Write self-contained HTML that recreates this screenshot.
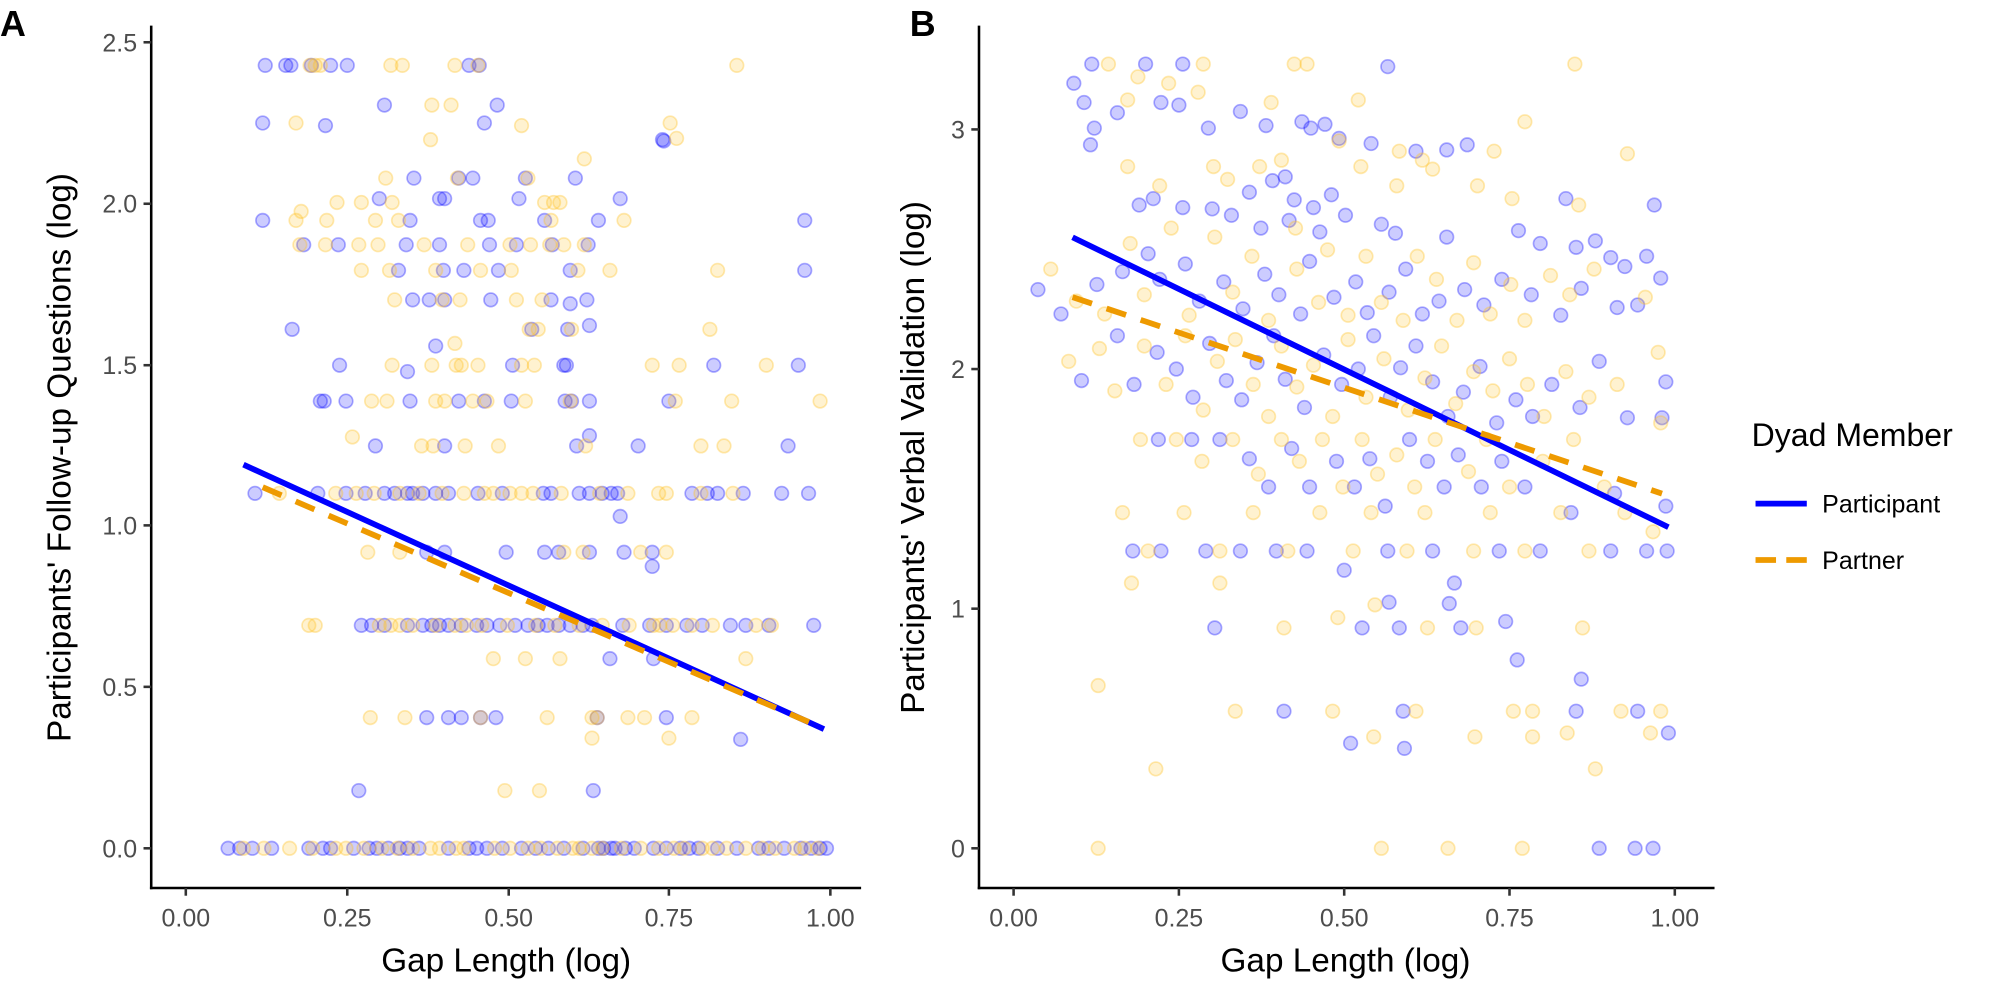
<!DOCTYPE html>
<html><head><style>html,body{margin:0;padding:0;background:#fff}svg{display:block}
.b{r:5.3px;fill:rgba(0,0,255,0.2);stroke:rgba(0,0,255,0.33);stroke-width:1.3}
.o{r:5.3px;fill:rgba(255,195,40,0.22);stroke:rgba(255,195,40,0.36);stroke-width:1.3}
.t{font-size:19.5px;fill:#4d4d4d}
</style></head>
<body>
<svg width="1999" height="994" viewBox="0 0 1560 775.7" preserveAspectRatio="none" xmlns="http://www.w3.org/2000/svg" font-family="Liberation Sans, sans-serif">
<g>
<g>
<circle class="b" cx="178" cy="662"/><circle class="b" cx="187" cy="662"/><circle class="b" cx="197" cy="662"/><circle class="b" cx="212" cy="662"/><circle class="b" cx="241" cy="662"/><circle class="b" cx="252" cy="662"/><circle class="b" cx="258" cy="662"/><circle class="b" cx="276" cy="662"/><circle class="b" cx="288" cy="662"/><circle class="b" cx="294" cy="662"/><circle class="b" cx="303" cy="662"/><circle class="b" cx="312" cy="662"/><circle class="b" cx="318" cy="662"/><circle class="b" cx="327" cy="662"/><circle class="b" cx="350" cy="662"/><circle class="b" cx="366" cy="662"/><circle class="b" cx="372" cy="662"/><circle class="b" cx="380" cy="662"/><circle class="b" cx="392" cy="662"/><circle class="b" cx="407" cy="662"/><circle class="b" cx="418" cy="662"/><circle class="b" cx="428" cy="662"/><circle class="b" cx="440" cy="662"/><circle class="b" cx="455" cy="662"/><circle class="b" cx="467" cy="662"/><circle class="b" cx="471" cy="662"/><circle class="b" cx="477" cy="662"/><circle class="b" cx="480" cy="662"/><circle class="b" cx="488" cy="662"/><circle class="b" cx="495" cy="662"/><circle class="b" cx="510" cy="662"/><circle class="b" cx="520" cy="662"/><circle class="b" cx="531" cy="662"/><circle class="b" cx="538" cy="662"/><circle class="b" cx="545" cy="662"/><circle class="b" cx="560" cy="662"/><circle class="b" cx="575" cy="662"/><circle class="b" cx="592" cy="662"/><circle class="b" cx="600" cy="662"/><circle class="b" cx="612" cy="662"/><circle class="b" cx="625" cy="662"/><circle class="b" cx="633" cy="662"/><circle class="b" cx="640" cy="662"/><circle class="b" cx="645" cy="662"/>
<circle class="o" cx="190" cy="662"/><circle class="o" cx="206" cy="662"/><circle class="o" cx="226" cy="662"/><circle class="o" cx="244" cy="662"/><circle class="o" cx="262" cy="662"/><circle class="o" cx="270" cy="662"/><circle class="o" cx="284" cy="662"/><circle class="o" cx="298" cy="662"/><circle class="o" cx="310" cy="662"/><circle class="o" cx="322" cy="662"/><circle class="o" cx="336" cy="662"/><circle class="o" cx="343" cy="662"/><circle class="o" cx="356" cy="662"/><circle class="o" cx="362" cy="662"/><circle class="o" cx="386" cy="662"/><circle class="o" cx="398" cy="662"/><circle class="o" cx="412" cy="662"/><circle class="o" cx="422" cy="662"/><circle class="o" cx="435" cy="662"/><circle class="o" cx="447" cy="662"/><circle class="o" cx="452" cy="662"/><circle class="o" cx="462" cy="662"/><circle class="o" cx="470" cy="662"/><circle class="o" cx="485" cy="662"/><circle class="o" cx="500" cy="662"/><circle class="o" cx="514" cy="662"/><circle class="o" cx="526" cy="662"/><circle class="o" cx="534" cy="662"/><circle class="o" cx="548" cy="662"/><circle class="o" cx="556" cy="662"/><circle class="o" cx="567" cy="662"/><circle class="o" cx="582" cy="662"/><circle class="o" cx="595" cy="662"/><circle class="o" cx="605" cy="662"/><circle class="o" cx="620" cy="662"/><circle class="o" cx="628" cy="662"/><circle class="o" cx="638" cy="662"/>
<circle class="b" cx="282" cy="488"/><circle class="b" cx="290" cy="488"/><circle class="b" cx="300" cy="488"/><circle class="b" cx="318" cy="488"/><circle class="b" cx="330" cy="488"/><circle class="b" cx="337" cy="488"/><circle class="b" cx="343" cy="488"/><circle class="b" cx="350" cy="488"/><circle class="b" cx="360" cy="488"/><circle class="b" cx="372" cy="488"/><circle class="b" cx="380" cy="488"/><circle class="b" cx="390" cy="488"/><circle class="b" cx="402" cy="488"/><circle class="b" cx="412" cy="488"/><circle class="b" cx="420" cy="488"/><circle class="b" cx="427" cy="488"/><circle class="b" cx="436" cy="488"/><circle class="b" cx="445" cy="488"/><circle class="b" cx="455" cy="488"/><circle class="b" cx="462" cy="488"/><circle class="b" cx="486" cy="488"/><circle class="b" cx="507" cy="488"/><circle class="b" cx="520" cy="488"/><circle class="b" cx="536" cy="488"/><circle class="b" cx="548" cy="488"/><circle class="b" cx="570" cy="488"/><circle class="b" cx="582" cy="488"/><circle class="b" cx="600" cy="488"/><circle class="b" cx="635" cy="488"/>
<circle class="o" cx="241" cy="488"/><circle class="o" cx="246" cy="488"/><circle class="o" cx="296" cy="488"/><circle class="o" cx="305" cy="488"/><circle class="o" cx="312" cy="488"/><circle class="o" cx="322" cy="488"/><circle class="o" cx="340" cy="488"/><circle class="o" cx="355" cy="488"/><circle class="o" cx="364" cy="488"/><circle class="o" cx="376" cy="488"/><circle class="o" cx="396" cy="488"/><circle class="o" cx="418" cy="488"/><circle class="o" cx="433" cy="488"/><circle class="o" cx="452" cy="488"/><circle class="o" cx="470" cy="488"/><circle class="o" cx="491" cy="488"/><circle class="o" cx="510" cy="488"/><circle class="o" cx="515" cy="488"/><circle class="o" cx="525" cy="488"/><circle class="o" cx="540" cy="488"/><circle class="o" cx="556" cy="488"/><circle class="o" cx="590" cy="488"/><circle class="o" cx="602" cy="488"/>
<circle class="b" cx="199" cy="385"/><circle class="b" cx="248" cy="385"/><circle class="b" cx="270" cy="385"/><circle class="b" cx="285" cy="385"/><circle class="b" cx="300" cy="385"/><circle class="b" cx="308" cy="385"/><circle class="b" cx="318" cy="385"/><circle class="b" cx="322" cy="385"/><circle class="b" cx="330" cy="385"/><circle class="b" cx="340" cy="385"/><circle class="b" cx="350" cy="385"/><circle class="b" cx="373" cy="385"/><circle class="b" cx="392" cy="385"/><circle class="b" cx="424" cy="385"/><circle class="b" cx="430" cy="385"/><circle class="b" cx="452" cy="385"/><circle class="b" cx="460" cy="385"/><circle class="b" cx="470" cy="385"/><circle class="b" cx="477" cy="385"/><circle class="b" cx="482" cy="385"/><circle class="b" cx="540" cy="385"/><circle class="b" cx="552" cy="385"/><circle class="b" cx="560" cy="385"/><circle class="b" cx="580" cy="385"/><circle class="b" cx="610" cy="385"/><circle class="b" cx="631" cy="385"/>
<circle class="o" cx="218" cy="385"/><circle class="o" cx="262" cy="385"/><circle class="o" cx="278" cy="385"/><circle class="o" cx="292" cy="385"/><circle class="o" cx="312" cy="385"/><circle class="o" cx="327" cy="385"/><circle class="o" cx="345" cy="385"/><circle class="o" cx="362" cy="385"/><circle class="o" cx="378" cy="385"/><circle class="o" cx="385" cy="385"/><circle class="o" cx="398" cy="385"/><circle class="o" cx="407" cy="385"/><circle class="o" cx="416" cy="385"/><circle class="o" cx="438" cy="385"/><circle class="o" cx="468" cy="385"/><circle class="o" cx="490" cy="385"/><circle class="o" cx="514" cy="385"/><circle class="o" cx="520" cy="385"/><circle class="o" cx="547" cy="385"/><circle class="o" cx="572" cy="385"/>
<circle class="b" cx="333" cy="560"/><circle class="b" cx="350" cy="560"/><circle class="b" cx="360" cy="560"/><circle class="b" cx="375" cy="560"/><circle class="b" cx="387" cy="560"/><circle class="b" cx="466" cy="560"/><circle class="b" cx="520" cy="560"/>
<circle class="o" cx="289" cy="560"/><circle class="o" cx="316" cy="560"/><circle class="o" cx="375" cy="560"/><circle class="o" cx="427" cy="560"/><circle class="o" cx="462" cy="560"/><circle class="o" cx="466" cy="560"/><circle class="o" cx="490" cy="560"/><circle class="o" cx="503" cy="560"/><circle class="o" cx="540" cy="560"/>
<circle class="o" cx="462" cy="576"/><circle class="o" cx="522" cy="576"/><circle class="b" cx="280" cy="617"/><circle class="b" cx="463" cy="617"/><circle class="o" cx="394" cy="617"/><circle class="o" cx="421" cy="617"/>
<circle class="b" cx="476" cy="514"/><circle class="b" cx="510" cy="514"/><circle class="b" cx="578" cy="577"/><circle class="o" cx="385" cy="514"/><circle class="o" cx="410" cy="514"/><circle class="o" cx="437" cy="514"/><circle class="o" cx="582" cy="514"/>
<circle class="b" cx="333" cy="431"/><circle class="b" cx="347" cy="431"/><circle class="b" cx="395" cy="431"/><circle class="b" cx="425" cy="431"/><circle class="b" cx="436" cy="431"/><circle class="b" cx="460" cy="431"/><circle class="b" cx="487" cy="431"/><circle class="b" cx="509" cy="431"/><circle class="b" cx="509" cy="442"/><circle class="b" cx="484" cy="403"/>
<circle class="o" cx="287" cy="431"/><circle class="o" cx="312" cy="431"/><circle class="o" cx="440" cy="431"/><circle class="o" cx="455" cy="431"/><circle class="o" cx="500" cy="431"/><circle class="o" cx="520" cy="431"/>
<circle class="b" cx="293" cy="348"/><circle class="b" cx="347" cy="348"/><circle class="b" cx="450" cy="348"/><circle class="b" cx="498" cy="348"/><circle class="b" cx="615" cy="348"/><circle class="b" cx="460" cy="340"/>
<circle class="o" cx="275" cy="341"/><circle class="o" cx="329" cy="348"/><circle class="o" cx="338" cy="348"/><circle class="o" cx="363" cy="348"/><circle class="o" cx="389" cy="348"/><circle class="o" cx="457" cy="348"/><circle class="o" cx="547" cy="348"/><circle class="o" cx="565" cy="348"/>
<circle class="b" cx="250" cy="313"/><circle class="b" cx="253" cy="313"/><circle class="b" cx="270" cy="313"/><circle class="b" cx="320" cy="313"/><circle class="b" cx="358" cy="313"/><circle class="b" cx="378" cy="313"/><circle class="b" cx="399" cy="313"/><circle class="b" cx="441" cy="313"/><circle class="b" cx="446" cy="313"/><circle class="b" cx="460" cy="313"/><circle class="b" cx="522" cy="313"/>
<circle class="o" cx="290" cy="313"/><circle class="o" cx="302" cy="313"/><circle class="o" cx="340" cy="313"/><circle class="o" cx="347" cy="313"/><circle class="o" cx="369" cy="313"/><circle class="o" cx="380" cy="313"/><circle class="o" cx="410" cy="313"/><circle class="o" cx="445" cy="313"/><circle class="o" cx="527" cy="313"/><circle class="o" cx="571" cy="313"/><circle class="o" cx="640" cy="313"/>
<circle class="b" cx="265" cy="285"/><circle class="b" cx="318" cy="290"/><circle class="b" cx="400" cy="285"/><circle class="b" cx="440" cy="285"/><circle class="b" cx="442" cy="285"/><circle class="b" cx="557" cy="285"/><circle class="b" cx="623" cy="285"/>
<circle class="o" cx="306" cy="285"/><circle class="o" cx="337" cy="285"/><circle class="o" cx="356" cy="285"/><circle class="o" cx="360" cy="285"/><circle class="o" cx="373" cy="285"/><circle class="o" cx="407" cy="285"/><circle class="o" cx="417" cy="285"/><circle class="o" cx="509" cy="285"/><circle class="o" cx="530" cy="285"/><circle class="o" cx="598" cy="285"/>
<circle class="b" cx="228" cy="257"/><circle class="b" cx="322" cy="234"/><circle class="b" cx="340" cy="270"/><circle class="b" cx="415" cy="257"/><circle class="b" cx="460" cy="254"/><circle class="b" cx="443" cy="257"/>
<circle class="o" cx="355" cy="268"/><circle class="o" cx="413" cy="257"/><circle class="o" cx="420" cy="257"/><circle class="o" cx="446" cy="257"/><circle class="o" cx="554" cy="257"/>
<circle class="b" cx="335" cy="234"/><circle class="b" cx="347" cy="234"/><circle class="b" cx="383" cy="234"/><circle class="b" cx="430" cy="234"/><circle class="b" cx="458" cy="234"/><circle class="b" cx="445" cy="237"/>
<circle class="o" cx="308" cy="234"/><circle class="o" cx="345" cy="234"/><circle class="o" cx="359" cy="234"/><circle class="o" cx="403" cy="234"/><circle class="o" cx="423" cy="234"/><circle class="o" cx="476" cy="211"/>
<circle class="b" cx="311" cy="211"/><circle class="b" cx="346" cy="211"/><circle class="b" cx="362" cy="211"/><circle class="b" cx="389" cy="211"/><circle class="b" cx="445" cy="211"/>
<circle class="o" cx="282" cy="211"/><circle class="o" cx="304" cy="211"/><circle class="o" cx="340" cy="211"/><circle class="o" cx="375" cy="211"/><circle class="o" cx="399" cy="211"/><circle class="o" cx="451" cy="211"/><circle class="o" cx="560" cy="211"/>
<circle class="b" cx="237" cy="191"/><circle class="b" cx="264" cy="191"/><circle class="b" cx="317" cy="191"/><circle class="b" cx="343" cy="191"/><circle class="b" cx="382" cy="191"/><circle class="b" cx="403" cy="191"/><circle class="b" cx="431" cy="191"/><circle class="b" cx="459" cy="191"/><circle class="b" cx="628" cy="211"/>
<circle class="o" cx="234" cy="191"/><circle class="o" cx="254" cy="191"/><circle class="o" cx="280" cy="191"/><circle class="o" cx="295" cy="191"/><circle class="o" cx="331" cy="191"/><circle class="o" cx="365" cy="191"/><circle class="o" cx="398" cy="191"/><circle class="o" cx="414" cy="191"/><circle class="o" cx="429" cy="191"/><circle class="o" cx="440" cy="191"/><circle class="o" cx="456" cy="191"/>
<circle class="b" cx="205" cy="172"/><circle class="b" cx="320" cy="172"/><circle class="b" cx="375" cy="172"/><circle class="b" cx="425" cy="172"/><circle class="b" cx="467" cy="172"/><circle class="b" cx="628" cy="172"/>
<circle class="o" cx="235" cy="165"/><circle class="o" cx="231" cy="172"/><circle class="o" cx="255" cy="172"/><circle class="o" cx="293" cy="172"/><circle class="o" cx="311" cy="172"/><circle class="o" cx="430" cy="172"/><circle class="o" cx="487" cy="172"/>
<circle class="b" cx="296" cy="155"/><circle class="b" cx="343" cy="155"/><circle class="b" cx="347" cy="155"/><circle class="b" cx="405" cy="155"/><circle class="b" cx="484" cy="155"/><circle class="b" cx="381" cy="172"/>
<circle class="o" cx="263" cy="158"/><circle class="o" cx="282" cy="158"/><circle class="o" cx="306" cy="158"/><circle class="o" cx="425" cy="158"/><circle class="o" cx="432" cy="158"/><circle class="o" cx="437" cy="158"/>
<circle class="b" cx="323" cy="139"/><circle class="b" cx="358" cy="139"/><circle class="b" cx="369" cy="139"/><circle class="b" cx="410" cy="139"/><circle class="b" cx="449" cy="139"/><circle class="o" cx="301" cy="139"/><circle class="o" cx="357" cy="139"/><circle class="o" cx="412" cy="139"/><circle class="o" cx="456" cy="124"/>
<circle class="b" cx="517" cy="109"/><circle class="b" cx="205" cy="96"/><circle class="b" cx="254" cy="98"/><circle class="b" cx="378" cy="96"/><circle class="b" cx="518" cy="110"/>
<circle class="o" cx="231" cy="96"/><circle class="o" cx="523" cy="96"/><circle class="o" cx="528" cy="108"/><circle class="o" cx="336" cy="109"/><circle class="o" cx="352" cy="82"/><circle class="o" cx="407" cy="98"/>
<circle class="b" cx="300" cy="82"/><circle class="b" cx="388" cy="82"/><circle class="o" cx="337" cy="82"/>
<circle class="b" cx="207" cy="51"/><circle class="b" cx="223" cy="51"/><circle class="b" cx="227" cy="51"/><circle class="b" cx="243" cy="51"/><circle class="b" cx="258" cy="51"/><circle class="b" cx="271" cy="51"/><circle class="b" cx="366" cy="51"/><circle class="b" cx="374" cy="51"/>
<circle class="o" cx="242" cy="51"/><circle class="o" cx="246" cy="51"/><circle class="o" cx="250" cy="51"/><circle class="o" cx="305" cy="51"/><circle class="o" cx="314" cy="51"/><circle class="o" cx="355" cy="51"/><circle class="o" cx="373" cy="51"/><circle class="o" cx="575" cy="51"/>
</g>
<g>
<circle class="b" cx="852" cy="50"/><circle class="b" cx="894" cy="50"/><circle class="b" cx="923" cy="50"/><circle class="b" cx="1083" cy="52"/><circle class="b" cx="838" cy="65"/><circle class="b" cx="846" cy="80"/><circle class="b" cx="854" cy="100"/><circle class="b" cx="851" cy="113"/><circle class="b" cx="872" cy="88"/><circle class="b" cx="906" cy="80"/><circle class="b" cx="920" cy="82"/><circle class="b" cx="943" cy="100"/><circle class="b" cx="968" cy="87"/><circle class="b" cx="988" cy="98"/><circle class="b" cx="1016" cy="95"/><circle class="b" cx="1023" cy="100"/><circle class="b" cx="1034" cy="97"/><circle class="b" cx="1045" cy="108"/><circle class="b" cx="1070" cy="112"/><circle class="b" cx="1105" cy="118"/><circle class="b" cx="1129" cy="117"/><circle class="b" cx="1145" cy="113"/><circle class="b" cx="1222" cy="155"/><circle class="b" cx="1291" cy="160"/><circle class="b" cx="1003" cy="138"/><circle class="b" cx="993" cy="141"/><circle class="b" cx="975" cy="150"/><circle class="b" cx="1010" cy="156"/><circle class="b" cx="1025" cy="162"/><circle class="b" cx="1039" cy="152"/><circle class="b" cx="889" cy="160"/><circle class="b" cx="900" cy="155"/><circle class="b" cx="923" cy="162"/><circle class="b" cx="946" cy="163"/><circle class="b" cx="961" cy="168"/><circle class="b" cx="984" cy="178"/><circle class="b" cx="1006" cy="172"/><circle class="b" cx="1030" cy="181"/><circle class="b" cx="1050" cy="168"/><circle class="b" cx="1078" cy="175"/><circle class="b" cx="1089" cy="182"/><circle class="b" cx="1129" cy="185"/><circle class="b" cx="1185" cy="180"/><circle class="b" cx="1202" cy="190"/><circle class="b" cx="1230" cy="193"/><circle class="b" cx="1245" cy="188"/><circle class="b" cx="1257" cy="201"/><circle class="b" cx="1268" cy="208"/><circle class="b" cx="1285" cy="200"/><circle class="b" cx="1296" cy="217"/>
<circle class="b" cx="810" cy="226"/><circle class="b" cx="828" cy="245"/><circle class="b" cx="856" cy="222"/><circle class="b" cx="876" cy="212"/><circle class="b" cx="896" cy="198"/><circle class="b" cx="905" cy="218"/><circle class="b" cx="925" cy="206"/><circle class="b" cx="936" cy="235"/><circle class="b" cx="955" cy="220"/><circle class="b" cx="970" cy="241"/><circle class="b" cx="987" cy="214"/><circle class="b" cx="998" cy="230"/><circle class="b" cx="1015" cy="245"/><circle class="b" cx="1022" cy="204"/><circle class="b" cx="1041" cy="232"/><circle class="b" cx="1058" cy="220"/><circle class="b" cx="1067" cy="244"/><circle class="b" cx="1084" cy="228"/><circle class="b" cx="1097" cy="210"/><circle class="b" cx="1110" cy="245"/><circle class="b" cx="1123" cy="235"/><circle class="b" cx="1143" cy="226"/><circle class="b" cx="1158" cy="238"/><circle class="b" cx="1172" cy="218"/><circle class="b" cx="1195" cy="230"/><circle class="b" cx="1218" cy="246"/><circle class="b" cx="1234" cy="225"/><circle class="b" cx="1262" cy="240"/><circle class="b" cx="1278" cy="238"/>
<circle class="b" cx="844" cy="297"/><circle class="b" cx="872" cy="262"/><circle class="b" cx="885" cy="300"/><circle class="b" cx="903" cy="275"/><circle class="b" cx="918" cy="288"/><circle class="b" cx="931" cy="310"/><circle class="b" cx="944" cy="268"/><circle class="b" cx="957" cy="297"/><circle class="b" cx="969" cy="312"/><circle class="b" cx="981" cy="283"/><circle class="b" cx="994" cy="262"/><circle class="b" cx="1003" cy="296"/><circle class="b" cx="1018" cy="318"/><circle class="b" cx="1033" cy="277"/><circle class="b" cx="1047" cy="300"/><circle class="b" cx="1060" cy="288"/><circle class="b" cx="1072" cy="262"/><circle class="b" cx="1085" cy="310"/><circle class="b" cx="1093" cy="287"/><circle class="b" cx="1105" cy="270"/><circle class="b" cx="1118" cy="298"/><circle class="b" cx="1130" cy="325"/><circle class="b" cx="1142" cy="306"/><circle class="b" cx="1155" cy="286"/><circle class="b" cx="1168" cy="330"/><circle class="b" cx="1183" cy="312"/><circle class="b" cx="1196" cy="325"/><circle class="b" cx="1211" cy="300"/><circle class="b" cx="1233" cy="318"/><circle class="b" cx="1248" cy="282"/><circle class="b" cx="1270" cy="326"/><circle class="b" cx="1297" cy="326"/><circle class="b" cx="1300" cy="298"/>
<circle class="b" cx="904" cy="343"/><circle class="b" cx="930" cy="343"/><circle class="b" cx="952" cy="343"/><circle class="b" cx="975" cy="358"/><circle class="b" cx="990" cy="380"/><circle class="b" cx="1008" cy="350"/><circle class="b" cx="1022" cy="380"/><circle class="b" cx="1043" cy="360"/><circle class="b" cx="1057" cy="380"/><circle class="b" cx="1069" cy="358"/><circle class="b" cx="1081" cy="395"/><circle class="b" cx="1100" cy="343"/><circle class="b" cx="1114" cy="360"/><circle class="b" cx="1127" cy="380"/><circle class="b" cx="1138" cy="355"/><circle class="b" cx="1156" cy="380"/><circle class="b" cx="1172" cy="360"/><circle class="b" cx="1190" cy="380"/><circle class="b" cx="1226" cy="400"/><circle class="b" cx="1260" cy="385"/><circle class="b" cx="1285" cy="430"/><circle class="b" cx="1301" cy="430"/><circle class="b" cx="1300" cy="395"/>
<circle class="b" cx="884" cy="430"/><circle class="b" cx="906" cy="430"/><circle class="b" cx="941" cy="430"/><circle class="b" cx="968" cy="430"/><circle class="b" cx="996" cy="430"/><circle class="b" cx="1020" cy="430"/><circle class="b" cx="1049" cy="445"/><circle class="b" cx="1083" cy="430"/><circle class="b" cx="1118" cy="430"/><circle class="b" cx="1135" cy="455"/><circle class="b" cx="1170" cy="430"/><circle class="b" cx="1202" cy="430"/><circle class="b" cx="1257" cy="430"/>
<circle class="b" cx="948" cy="490"/><circle class="b" cx="1063" cy="490"/><circle class="b" cx="1092" cy="490"/><circle class="b" cx="1140" cy="490"/><circle class="b" cx="1175" cy="485"/><circle class="b" cx="1184" cy="515"/><circle class="b" cx="1234" cy="530"/><circle class="b" cx="1084" cy="470"/><circle class="b" cx="1131" cy="471"/><circle class="b" cx="1002" cy="555"/><circle class="b" cx="1095" cy="555"/><circle class="b" cx="1230" cy="555"/><circle class="b" cx="1278" cy="555"/><circle class="b" cx="1302" cy="572"/><circle class="b" cx="1054" cy="580"/><circle class="b" cx="1096" cy="584"/><circle class="b" cx="1248" cy="662"/><circle class="b" cx="1276" cy="662"/><circle class="b" cx="1290" cy="662"/>
<circle class="o" cx="865" cy="50"/><circle class="o" cx="939" cy="50"/><circle class="o" cx="1010" cy="50"/><circle class="o" cx="1020" cy="50"/><circle class="o" cx="1229" cy="50"/><circle class="o" cx="888" cy="60"/><circle class="o" cx="880" cy="78"/><circle class="o" cx="912" cy="65"/><circle class="o" cx="935" cy="72"/><circle class="o" cx="992" cy="80"/><circle class="o" cx="1060" cy="78"/><circle class="o" cx="1045" cy="110"/><circle class="o" cx="1092" cy="118"/><circle class="o" cx="1190" cy="95"/><circle class="o" cx="1166" cy="118"/><circle class="o" cx="1110" cy="125"/><circle class="o" cx="1062" cy="130"/><circle class="o" cx="1270" cy="120"/><circle class="o" cx="880" cy="130"/><circle class="o" cx="905" cy="145"/><circle class="o" cx="947" cy="130"/><circle class="o" cx="958" cy="140"/><circle class="o" cx="983" cy="130"/><circle class="o" cx="1000" cy="125"/><circle class="o" cx="1118" cy="132"/><circle class="o" cx="1153" cy="145"/><circle class="o" cx="1232" cy="160"/><circle class="o" cx="1180" cy="155"/><circle class="o" cx="1090" cy="145"/><circle class="o" cx="1011" cy="178"/>
<circle class="o" cx="820" cy="210"/><circle class="o" cx="840" cy="235"/><circle class="o" cx="862" cy="245"/><circle class="o" cx="882" cy="190"/><circle class="o" cx="893" cy="230"/><circle class="o" cx="914" cy="178"/><circle class="o" cx="928" cy="246"/><circle class="o" cx="948" cy="185"/><circle class="o" cx="962" cy="228"/><circle class="o" cx="977" cy="200"/><circle class="o" cx="990" cy="250"/><circle class="o" cx="1012" cy="210"/><circle class="o" cx="1029" cy="236"/><circle class="o" cx="1036" cy="195"/><circle class="o" cx="1052" cy="246"/><circle class="o" cx="1066" cy="200"/><circle class="o" cx="1078" cy="236"/><circle class="o" cx="1095" cy="250"/><circle class="o" cx="1106" cy="200"/><circle class="o" cx="1121" cy="218"/><circle class="o" cx="1137" cy="250"/><circle class="o" cx="1150" cy="205"/><circle class="o" cx="1163" cy="245"/><circle class="o" cx="1179" cy="222"/><circle class="o" cx="1190" cy="250"/><circle class="o" cx="1210" cy="215"/><circle class="o" cx="1225" cy="230"/><circle class="o" cx="1244" cy="210"/><circle class="o" cx="1284" cy="232"/>
<circle class="o" cx="834" cy="282"/><circle class="o" cx="858" cy="272"/><circle class="o" cx="870" cy="305"/><circle class="o" cx="893" cy="270"/><circle class="o" cx="910" cy="300"/><circle class="o" cx="925" cy="262"/><circle class="o" cx="939" cy="320"/><circle class="o" cx="950" cy="282"/><circle class="o" cx="964" cy="265"/><circle class="o" cx="978" cy="300"/><circle class="o" cx="990" cy="325"/><circle class="o" cx="1000" cy="270"/><circle class="o" cx="1012" cy="302"/><circle class="o" cx="1025" cy="285"/><circle class="o" cx="1040" cy="325"/><circle class="o" cx="1052" cy="265"/><circle class="o" cx="1066" cy="310"/><circle class="o" cx="1080" cy="280"/><circle class="o" cx="1099" cy="320"/><circle class="o" cx="1112" cy="295"/><circle class="o" cx="1125" cy="270"/><circle class="o" cx="1136" cy="315"/><circle class="o" cx="1150" cy="290"/><circle class="o" cx="1165" cy="305"/><circle class="o" cx="1178" cy="280"/><circle class="o" cx="1192" cy="300"/><circle class="o" cx="1205" cy="325"/><circle class="o" cx="1222" cy="290"/><circle class="o" cx="1240" cy="310"/><circle class="o" cx="1262" cy="300"/><circle class="o" cx="1294" cy="275"/>
<circle class="o" cx="890" cy="343"/><circle class="o" cx="918" cy="343"/><circle class="o" cx="938" cy="360"/><circle class="o" cx="962" cy="343"/><circle class="o" cx="982" cy="370"/><circle class="o" cx="1000" cy="343"/><circle class="o" cx="1014" cy="360"/><circle class="o" cx="1032" cy="343"/><circle class="o" cx="1048" cy="380"/><circle class="o" cx="1063" cy="343"/><circle class="o" cx="1075" cy="370"/><circle class="o" cx="1090" cy="355"/><circle class="o" cx="1104" cy="380"/><circle class="o" cx="1120" cy="343"/><circle class="o" cx="1146" cy="368"/><circle class="o" cx="1160" cy="343"/><circle class="o" cx="1178" cy="380"/><circle class="o" cx="1204" cy="360"/><circle class="o" cx="1228" cy="343"/><circle class="o" cx="1252" cy="380"/><circle class="o" cx="1268" cy="400"/><circle class="o" cx="1290" cy="415"/><circle class="o" cx="1296" cy="330"/>
<circle class="o" cx="876" cy="400"/><circle class="o" cx="896" cy="430"/><circle class="o" cx="924" cy="400"/><circle class="o" cx="952" cy="430"/><circle class="o" cx="978" cy="400"/><circle class="o" cx="1005" cy="430"/><circle class="o" cx="1030" cy="400"/><circle class="o" cx="1056" cy="430"/><circle class="o" cx="1070" cy="400"/><circle class="o" cx="1098" cy="430"/><circle class="o" cx="1112" cy="400"/><circle class="o" cx="1150" cy="430"/><circle class="o" cx="1163" cy="400"/><circle class="o" cx="1190" cy="430"/><circle class="o" cx="1218" cy="400"/><circle class="o" cx="1240" cy="430"/>
<circle class="o" cx="883" cy="455"/><circle class="o" cx="952" cy="455"/><circle class="o" cx="1002" cy="490"/><circle class="o" cx="1044" cy="482"/><circle class="o" cx="1073" cy="472"/><circle class="o" cx="1114" cy="490"/><circle class="o" cx="1152" cy="490"/><circle class="o" cx="1235" cy="490"/><circle class="o" cx="857" cy="535"/><circle class="o" cx="964" cy="555"/><circle class="o" cx="1040" cy="555"/><circle class="o" cx="1105" cy="555"/><circle class="o" cx="1181" cy="555"/><circle class="o" cx="1196" cy="555"/><circle class="o" cx="1265" cy="555"/><circle class="o" cx="1296" cy="555"/><circle class="o" cx="1223" cy="572"/><circle class="o" cx="1288" cy="572"/><circle class="o" cx="902" cy="600"/><circle class="o" cx="1151" cy="575"/><circle class="o" cx="1196" cy="575"/><circle class="o" cx="1072" cy="575"/><circle class="o" cx="1245" cy="600"/><circle class="o" cx="857" cy="662"/><circle class="o" cx="1078" cy="662"/><circle class="o" cx="1130" cy="662"/><circle class="o" cx="1188" cy="662"/>
</g>
</g>
<line x1="118" y1="20" x2="118" y2="694" stroke="#000" stroke-width="2"/>
<line x1="117" y1="693" x2="672" y2="693" stroke="#000" stroke-width="2"/>
<line x1="764" y1="20" x2="764" y2="694" stroke="#000" stroke-width="2"/>
<line x1="763" y1="693" x2="1338" y2="693" stroke="#000" stroke-width="2"/>
<g stroke="#333" stroke-width="2">
<line x1="145" y1="693" x2="145" y2="699"/><line x1="271" y1="693" x2="271" y2="699"/><line x1="397" y1="693" x2="397" y2="699"/><line x1="522" y1="693" x2="522" y2="699"/><line x1="648" y1="693" x2="648" y2="699"/>
<line x1="791" y1="693" x2="791" y2="699"/><line x1="920" y1="693" x2="920" y2="699"/><line x1="1049" y1="693" x2="1049" y2="699"/><line x1="1178" y1="693" x2="1178" y2="699"/><line x1="1307" y1="693" x2="1307" y2="699"/>
<line x1="112" y1="662" x2="118" y2="662"/><line x1="112" y1="536" x2="118" y2="536"/><line x1="112" y1="410" x2="118" y2="410"/><line x1="112" y1="285" x2="118" y2="285"/><line x1="112" y1="159" x2="118" y2="159"/><line x1="112" y1="33" x2="118" y2="33"/>
<line x1="758" y1="662" x2="764" y2="662"/><line x1="758" y1="475" x2="764" y2="475"/><line x1="758" y1="288" x2="764" y2="288"/><line x1="758" y1="101" x2="764" y2="101"/>
</g>
<g class="t" text-anchor="middle">
<text x="145" y="723">0.00</text><text x="271" y="723">0.25</text><text x="397" y="723">0.50</text><text x="522" y="723">0.75</text><text x="648" y="723">1.00</text>
<text x="791" y="723">0.00</text><text x="920" y="723">0.25</text><text x="1049" y="723">0.50</text><text x="1178" y="723">0.75</text><text x="1307" y="723">1.00</text>
</g>
<g class="t" text-anchor="end">
<text x="107" y="669">0.0</text><text x="107" y="543">0.5</text><text x="107" y="417">1.0</text><text x="107" y="292">1.5</text><text x="107" y="166">2.0</text><text x="107" y="40">2.5</text>
<text x="753" y="669">0</text><text x="753" y="482">1</text><text x="753" y="295">2</text><text x="753" y="108">3</text>
</g>
<line x1="190" y1="362.6" x2="643" y2="569" stroke="#0000ff" stroke-width="4.5"/>
<line x1="205" y1="380.2" x2="638" y2="566.4" stroke="#ee9a00" stroke-width="4.5" stroke-dasharray="16,12"/>
<line x1="837" y1="185.2" x2="1302" y2="411.4" stroke="#0000ff" stroke-width="4.5"/>
<line x1="837" y1="231.9" x2="1297" y2="385.2" stroke="#ee9a00" stroke-width="4.5" stroke-dasharray="16,12"/>
<text x="0" y="28" font-size="28" font-weight="bold">A</text>
<text x="710" y="28" font-size="28" font-weight="bold">B</text>
<text x="395" y="758" font-size="26" text-anchor="middle">Gap Length (log)</text>
<text x="1050" y="758" font-size="26" text-anchor="middle">Gap Length (log)</text>
<text transform="translate(55,357) rotate(-90)" font-size="26" text-anchor="middle">Participants' Follow-up Questions (log)</text>
<text transform="translate(721,357) rotate(-90)" font-size="26" text-anchor="middle">Participants' Verbal Validation (log)</text>
<text x="1367" y="348" font-size="25">Dyad Member</text>
<line x1="1370" y1="393" x2="1410" y2="393" stroke="#0000ff" stroke-width="4.5"/>
<line x1="1370" y1="437" x2="1410" y2="437" stroke="#ee9a00" stroke-width="4.5" stroke-dasharray="16,8"/>
<text x="1422" y="400" font-size="19.5">Participant</text>
<text x="1422" y="444" font-size="19.5">Partner</text>
</svg>
</body></html>
